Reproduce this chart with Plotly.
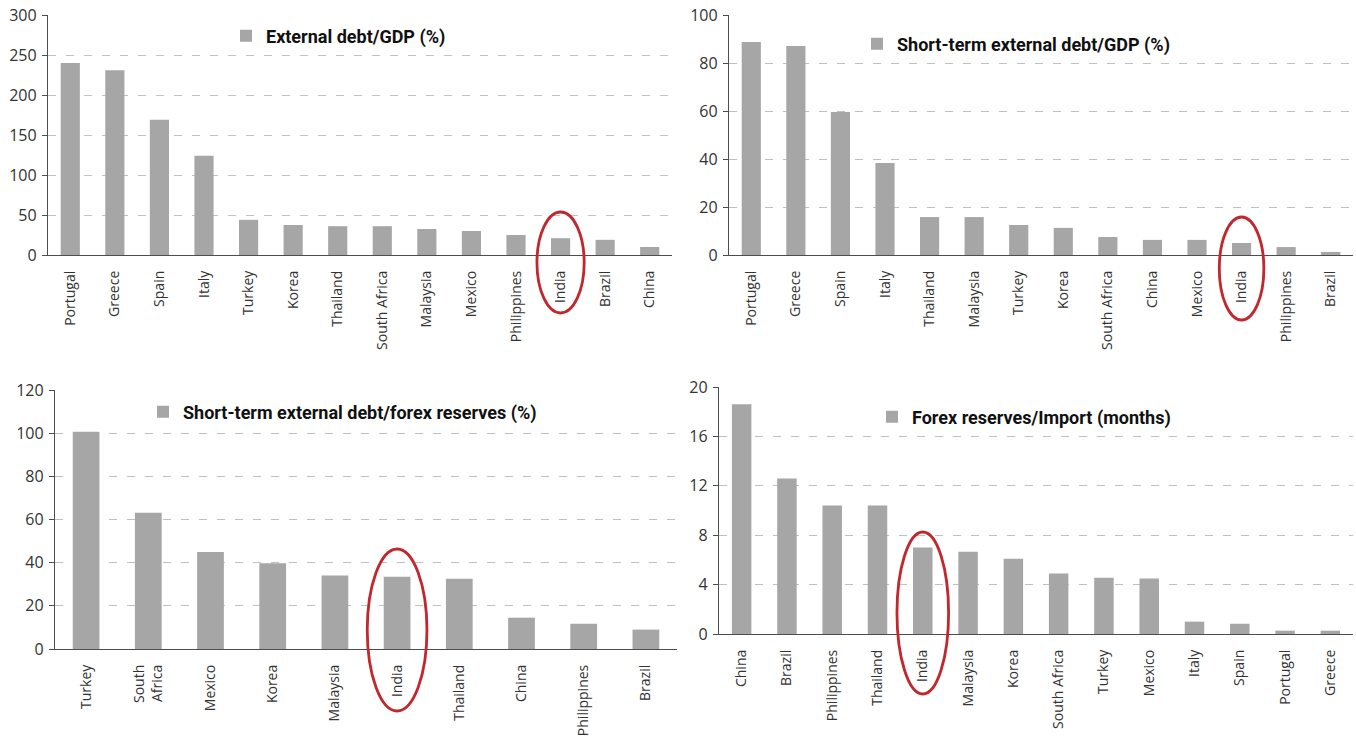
import plotly.graph_objects as go

W, H = 1356, 736

# ---- data ----
cats1 = ["Portugal", "Greece", "Spain", "Italy", "Turkey", "Korea", "Thailand",
         "South Africa", "Malaysia", "Mexico", "Philippines", "India", "Brazil", "China"]
vals1 = [240, 231, 169, 124, 44, 37.5, 36, 36, 32.5, 30, 25, 21, 19, 10]
name1 = "External debt/GDP (%)"

cats2 = ["Portugal", "Greece", "Spain", "Italy", "Thailand", "Malaysia", "Turkey",
         "Korea", "South Africa", "China", "Mexico", "India", "Philippines", "Brazil"]
vals2 = [88.8, 87.1, 59.6, 38.3, 15.8, 15.8, 12.5, 11.3, 7.5, 6.3, 6.3, 5.0, 3.3, 1.3]
name2 = "Short-term external debt/GDP (%)"

cats3 = ["Turkey", "South Africa", "Mexico", "Korea", "Malaysia", "India",
         "Thailand", "China", "Philippines", "Brazil"]
vals3 = [100.6, 63.1, 45.0, 39.7, 34.0, 33.5, 32.6, 14.5, 11.7, 9.0]
name3 = "Short-term external debt/forex reserves (%)"

cats4 = ["China", "Brazil", "Philippines", "Thailand", "India", "Malaysia", "Korea",
         "South Africa", "Turkey", "Mexico", "Italy", "Spain", "Portugal", "Greece"]
vals4 = [18.6, 12.6, 10.4, 10.4, 7.0, 6.65, 6.1, 4.9, 4.55, 4.5, 1.0, 0.83, 0.27, 0.27]
name4 = "Forex reserves/Import (months)"

highlight = "India"

# ---- style ----
BAR = "#a6a6a6"
GRID = "#c0c0c0"
AXIS = "#4d4d4d"
RED = "#c1272d"
TICKFONT = dict(family="Open Sans, sans-serif", size=14, color="#333333")
YTICKFONT = dict(family="Open Sans, sans-serif", size=16, color="#333333")
LEGFONT = dict(family="Liberation Sans Narrow, Roboto, sans-serif", size=18, color="#111111")

def px(x):
    return x / W

def py(y):
    return 1 - y / H

panels = [
    dict(c=cats1, v=vals1, n=name1, xd=(48, 672), yd=(15, 255), yr=300, dt=50,
         leg=(266, 36), ell=(0.53, 212, 313), wrap=False),
    dict(c=cats2, v=vals2, n=name2, xd=(729, 1353), yd=(15, 255), yr=100, dt=20,
         leg=(897, 44), ell=(0.50, 217, 320), wrap=False),
    dict(c=cats3, v=vals3, n=name3, xd=(55, 677), yd=(390, 649), yr=120, dt=20,
         leg=(183, 412), ell=(0.48, 549, 711), wrap=True),
    dict(c=cats4, v=vals4, n=name4, xd=(719, 1353), yd=(387, 634), yr=20, dt=4,
         leg=(912, 417), ell=(0.57, 532, 694), wrap=False),
]

fig = go.Figure()
shapes = []
layout = dict(
    width=W, height=H, margin=dict(l=0, r=0, t=0, b=0, autoexpand=False),
    paper_bgcolor="white", plot_bgcolor="white",
    bargap=0.57, showlegend=True,
)

for i, p in enumerate(panels, start=1):
    xa = "x" if i == 1 else f"x{i}"
    ya = "y" if i == 1 else f"y{i}"
    lg = "legend" if i == 1 else f"legend{i}"
    fig.add_trace(go.Bar(
        x=p["c"], y=p["v"], name=f"<b>{p['n']}</b>",
        marker=dict(color=BAR, line=dict(width=0)),
        xaxis=xa, yaxis=ya, legend=lg, hoverinfo="x+y",
    ))
    ticktext = [c.replace("South Africa", "South<br>Africa") if p["wrap"] else c for c in p["c"]]
    layout["xaxis" if i == 1 else f"xaxis{i}"] = dict(
        domain=[px(p["xd"][0]), px(p["xd"][1])], anchor=ya,
        type="category", tickangle=-90, tickfont=TICKFONT,
        tickmode="array", tickvals=p["c"], ticktext=ticktext,
        showline=True, linecolor=AXIS, linewidth=1.3, ticks="", showgrid=False,
        ticklabelstandoff=9, fixedrange=True, automargin=False,
    )
    layout["yaxis" if i == 1 else f"yaxis{i}"] = dict(
        domain=[py(p["yd"][1]), py(p["yd"][0])], anchor=xa,
        range=[0, p["yr"]], dtick=p["dt"], tick0=0,
        showline=True, linecolor=AXIS, linewidth=1.3,
        ticks="outside", ticklen=5, tickcolor=AXIS, tickwidth=1,
        showgrid=True, gridcolor=GRID, griddash="8px,10px", gridwidth=1,
        zeroline=False, tickfont=YTICKFONT, ticklabelstandoff=2, fixedrange=True,
        automargin=False,
    )
    layout[lg] = dict(
        x=px(p["leg"][0] - 40), y=py(p["leg"][1]), xanchor="left", yanchor="middle",
        bgcolor="rgba(0,0,0,0)", borderwidth=0, font=LEGFONT, itemwidth=30,
    )
    idx = p["c"].index(highlight)
    hw, yt, yb = p["ell"]
    shapes.append(dict(
        type="circle", xref=xa, yref="paper",
        x0=idx - hw, x1=idx + hw, y0=py(yb), y1=py(yt),
        line=dict(color=RED, width=2.8), fillcolor="rgba(0,0,0,0)", layer="above",
    ))

layout["shapes"] = shapes
fig.update_layout(**layout)

fig.write_html(
    "out.html",
    config={"displayModeBar": False},
    post_script="document.body.style.margin='0';document.body.style.overflow='hidden';",
)
